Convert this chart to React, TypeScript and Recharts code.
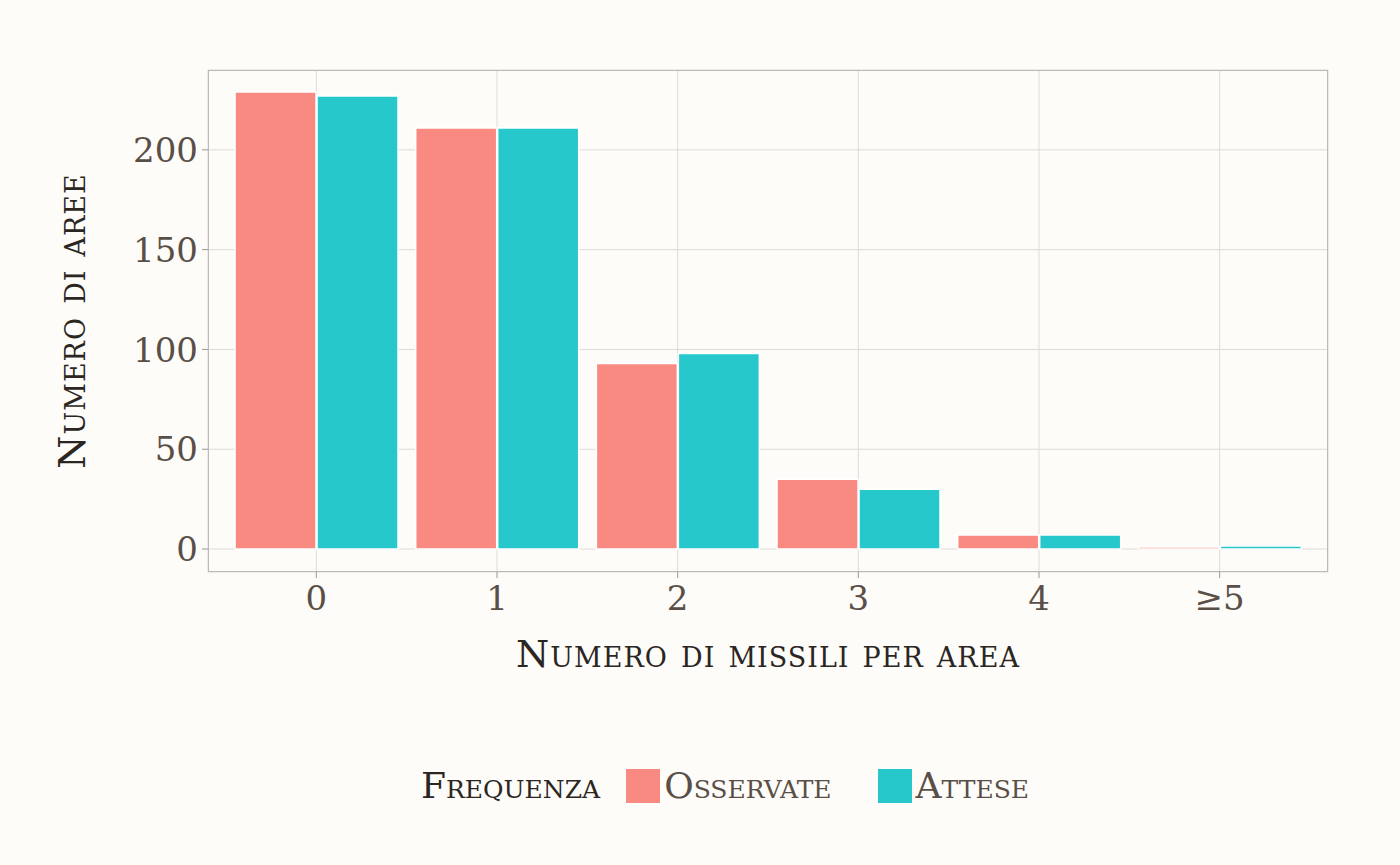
import { BarChart, Bar, XAxis, YAxis, CartesianGrid } from 'recharts';

const categories = ['0', '1', '2', '3', '4', '≥5'];
const osservate = [229, 211, 93, 35, 7, 1];
const attese = [227, 211, 98, 30, 7, 1.5];
const yTicks = [0, 50, 100, 150, 200];

const data = categories.map((c, i) => ({ name: c, osservate: osservate[i], attese: attese[i] }));

const font = '"DejaVu Serif", "Liberation Serif", serif';
const tickStyle = { fill: '#5a4f47', fontSize: 34, fontFamily: font };
const titleStyle: React.CSSProperties = {
  position: 'absolute', fontFamily: font, fontVariant: 'small-caps', fontSize: 38,
  color: '#2b2622', whiteSpace: 'nowrap', letterSpacing: 1,
};

export default function App() {
  return (
    <div style={{ position: 'fixed', left: 0, top: 0, width: 1400, height: 865, background: '#fdfcf9' }}>
      <BarChart width={1400} height={865} data={data} barGap={1} barCategoryGap="5%"
        margin={{ top: 70, right: 72, bottom: 233, left: 0 }}>
        <CartesianGrid stroke="#dedbd8" />
        <XAxis dataKey="name" height={60} padding={{ left: 18, right: 18 }} tick={tickStyle} tickLine={{ stroke: '#999' }}
          axisLine={false} tickMargin={8} tickSize={6} interval={0} />
        <YAxis domain={[-11.5, 240]} ticks={yTicks} tick={tickStyle} tickLine={{ stroke: '#999' }}
          axisLine={false} width={208} tickSize={6} tickMargin={4} />
        <Bar dataKey="osservate" fill="#f98a82" stroke="#ffffff" strokeWidth={1.5} isAnimationActive={false} />
        <Bar dataKey="attese" fill="#26c8cc" stroke="#ffffff" strokeWidth={1.5} isAnimationActive={false} />
      </BarChart>
      <div style={{ position: 'absolute', left: 208, top: 70, width: 1120, height: 502, border: '1.5px solid #bdbab6', boxSizing: 'border-box', pointerEvents: 'none' }} />
      <div style={{ ...titleStyle, left: 768, top: 632, transform: 'translateX(-50%)' }}>Numero di missili per area</div>
      <div style={{ ...titleStyle, left: 72, top: 321, transform: 'translate(-50%, -50%) rotate(-90deg)' }}>Numero di aree</div>
      <div style={{ position: 'absolute', left: 0, top: 765, width: 1400, display: 'flex', justifyContent: 'center', alignItems: 'center', fontFamily: font, fontVariant: 'small-caps', fontSize: 36, color: '#5a4f47' }}>
        <span style={{ color: '#2b2622', marginRight: 26, marginLeft: 50 }}>Frequenza</span>
        <span style={{ width: 34, height: 34, background: '#f98a82', marginRight: 4 }} />
        <span style={{ marginRight: 46 }}>Osservate</span>
        <span style={{ width: 34, height: 34, background: '#26c8cc', marginRight: 4 }} />
        <span>Attese</span>
      </div>
    </div>
  );
}
